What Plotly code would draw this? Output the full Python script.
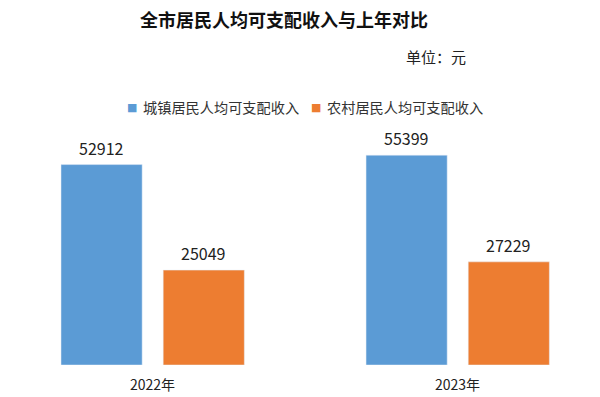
import plotly.graph_objects as go

years = ["2022年", "2023年"]
urban_name = "城镇居民人均可支配收入"
rural_name = "农村居民人均可支配收入"
urban = [52912, 55399]
rural = [25049, 27229]
title_text = "全市居民人均可支配收入与上年对比"
unit_text = "单位：元"

FONT = "Noto Sans CJK SC, Microsoft YaHei, sans-serif"
BLUE = "#5B9BD5"
ORANGE = "#ED7D31"
TXT = "#222222"

W, H = 600, 397
TOP, BOT = 125, 32
PLOT_H = H - TOP - BOT
BAR_W = 0.266
OFF_BLUE, OFF_ORANGE = -0.30, 0.035


def py(pix_from_top):
    # convert a pixel row (from figure top) to paper y coordinate
    return (H - BOT - pix_from_top) / PLOT_H


fig = go.Figure()
fig.add_trace(go.Bar(x=years, y=urban, name=urban_name, marker_color=BLUE,
                     width=BAR_W, offset=OFF_BLUE, showlegend=False))
fig.add_trace(go.Bar(x=years, y=rural, name=rural_name, marker_color=ORANGE,
                     width=BAR_W, offset=OFF_ORANGE, showlegend=False))

annotations = []
# value labels, anchored on the data points
for series, shift in ((urban, -51), (rural, 51)):
    for yr, v in zip(years, series):
        annotations.append(dict(x=yr, y=v, xref="x", yref="y", text=str(v),
                                showarrow=False, xshift=shift, yshift=17,
                                xanchor="center", yanchor="middle",
                                font=dict(size=16, color=TXT, family=FONT)))

# unit note
annotations.append(dict(text=unit_text, x=436 / W, y=py(57), xref="paper", yref="paper",
                        xanchor="center", yanchor="middle", showarrow=False,
                        font=dict(size=15, color=TXT, family=FONT)))

# legend (swatch + label)
for name, color, sq_x, tx_x in ((urban_name, BLUE, 132, 141), (rural_name, ORANGE, 316, 325)):
    annotations.append(dict(text="■", x=sq_x / W, y=py(107), xref="paper", yref="paper",
                            xanchor="center", yanchor="middle", showarrow=False,
                            font=dict(size=11, color=color, family="DejaVu Sans")))
    annotations.append(dict(text=name, x=tx_x / W, y=py(107), xref="paper", yref="paper",
                            xanchor="left", yanchor="middle", showarrow=False,
                            font=dict(size=14.2, color="#333333", family=FONT)))

fig.update_layout(
    width=W, height=H,
    margin=dict(l=0, r=0, t=TOP, b=BOT),
    paper_bgcolor="white", plot_bgcolor="white",
    barmode="group",
    font=dict(family=FONT, color=TXT),
    title=dict(text="<b>" + title_text + "</b>", x=284 / W, xanchor="center",
               y=1 - 21 / H, yanchor="middle", yref="container",
               font=dict(size=18, color="#111111", family=FONT)),
    showlegend=False,
    xaxis=dict(type="category", range=[-0.5, 1.467], showgrid=False, zeroline=False,
               showline=False, ticks="", ticklabelstandoff=10,
               tickfont=dict(size=14, color=TXT, family=FONT)),
    yaxis=dict(range=[0, 63360], visible=False, showgrid=False),
    annotations=annotations,
)

fig.write_html("out.html", config={"displayModeBar": False},
               post_script="document.body.style.margin='0';")
